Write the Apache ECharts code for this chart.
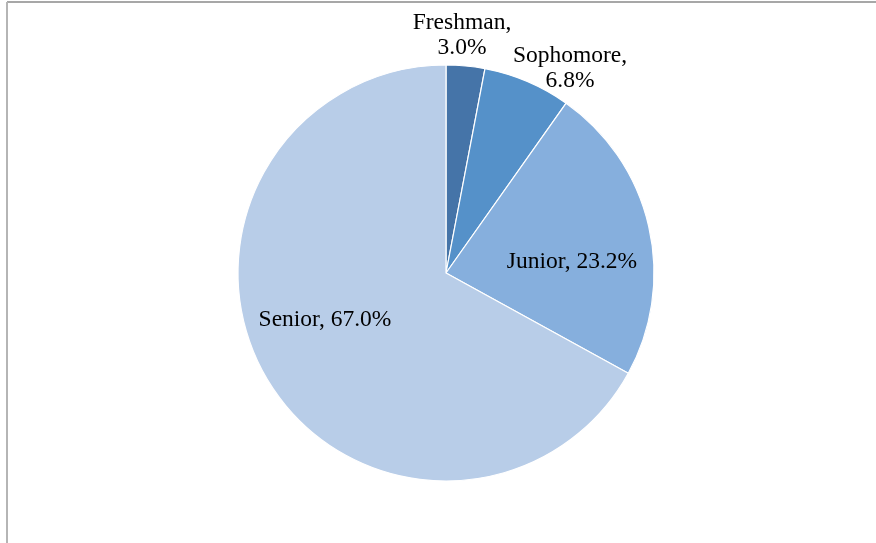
<!DOCTYPE html>
<html><head><meta charset="utf-8">
<script src="https://cdn.jsdelivr.net/npm/echarts@6/dist/echarts.min.js"></script>
<style>html,body{margin:0;padding:0;background:#fff}#c{width:876px;height:543px}</style>
</head><body><div id="c"></div>
<script>
const categories = ['Freshman', 'Sophomore', 'Junior', 'Senior'];
const values = [3.0, 6.8, 23.2, 67.0];
const colors = ['#4574a8', '#5591c9', '#86afdd', '#b8cde8'];
const labelAnchors = [[462, 35], [570, 68], [572, 262], [325, 320]];

const chart = echarts.init(document.getElementById('c'), null, {renderer: 'canvas'});
chart.setOption({
  animation: false,
  backgroundColor: '#fff',
  graphic: [
    {type: 'line', shape: {x1: 7, y1: 2, x2: 876, y2: 2}, style: {stroke: '#8a8a8a', lineWidth: 1.5}},
    {type: 'line', shape: {x1: 7, y1: 2, x2: 7, y2: 543}, style: {stroke: '#b5b5b5', lineWidth: 2}}
  ],
  series: [{
    type: 'pie',
    center: [446, 273],
    radius: [0, 208],
    startAngle: 90,
    clockwise: true,
    itemStyle: {borderColor: '#fff', borderWidth: 1.2},
    label: {
      show: true,
      position: 'inside',
      fontFamily: 'Liberation Serif, Times New Roman, serif',
      fontSize: 23.5,
      lineHeight: 25,
      color: '#000',
      align: 'center',
      formatter: p => p.dataIndex < 2 ? p.name + ',\n' + p.value.toFixed(1) + '%' : p.name + ', ' + p.value.toFixed(1) + '%'
    },
    labelLine: {show: false},
    labelLayout: p => ({x: labelAnchors[p.dataIndex][0], y: labelAnchors[p.dataIndex][1], align: 'center', verticalAlign: 'middle'}),
    data: categories.map((n, i) => ({name: n, value: values[i], itemStyle: {color: colors[i]}}))
  }]
});
</script></body></html>
